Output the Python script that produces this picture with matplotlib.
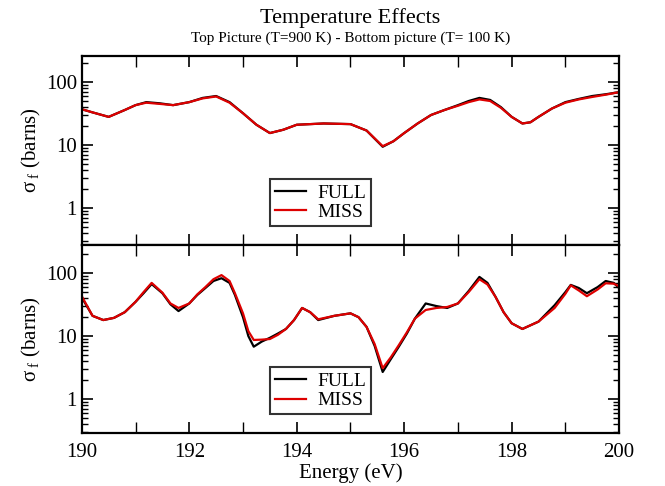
import numpy as np
import matplotlib
matplotlib.use("Agg")
import matplotlib.pyplot as plt
from matplotlib.ticker import LogLocator, MultipleLocator, FixedLocator

plt.rcParams['font.family'] = ['Liberation Serif', 'DejaVu Serif']
plt.rcParams['mathtext.fontset'] = 'custom'
plt.rcParams['mathtext.rm'] = 'Liberation Serif'
plt.rcParams['mathtext.it'] = 'Liberation Serif:italic'

# top panel, T = 900 K
e_hot = [190.0, 190.2, 190.5, 190.8, 191.0, 191.2, 191.45, 191.7, 192.0, 192.25,
         192.5, 192.75, 193.0, 193.25, 193.5, 193.75, 194.0, 194.5, 195.0, 195.3,
         195.6, 195.8, 196.0, 196.25, 196.5, 196.75, 197.0, 197.2, 197.4, 197.6,
         197.8, 198.0, 198.2, 198.35, 198.5, 198.75, 199.0, 199.25, 199.5, 199.75, 200.0]
full_hot = [37, 33, 28, 36, 43, 48, 46, 43, 48, 56,
            60, 48, 32, 21, 15.5, 17.5, 21, 22, 21.5, 17,
            9.4, 11.5, 15.5, 22, 30, 36, 43, 50, 56, 52,
            40, 28, 22, 23, 28, 38, 48, 54, 60, 64, 69]
miss_hot = [37, 33, 28, 36, 43, 47, 45, 43, 48, 55,
            59, 47, 32, 21, 15.5, 17.5, 21, 22, 21.5, 17,
            9.6, 11.5, 15.5, 22, 30, 36, 42, 48, 53, 50,
            39, 28, 22, 23, 28, 38, 47, 53, 58, 63, 69]

# bottom panel, T = 100 K
e_cold = [190.0, 190.2, 190.4, 190.6, 190.8, 191.0, 191.15, 191.3, 191.5, 191.65,
          191.8, 192.0, 192.15, 192.3, 192.45, 192.6, 192.75, 192.85, 193.0, 193.1,
          193.2, 193.35, 193.5, 193.65, 193.8, 193.95, 194.1, 194.25, 194.4, 194.7,
          195.0, 195.15, 195.3, 195.45, 195.6, 195.75, 195.9, 196.05, 196.2, 196.4,
          196.6, 196.8, 197.0, 197.2, 197.4, 197.55, 197.7, 197.85, 198.0, 198.2,
          198.5, 198.8, 199.0, 199.1, 199.25, 199.4, 199.6, 199.75, 199.9, 200.0]
full_cold = [41, 21, 18, 19.5, 24, 35, 48, 67, 48, 32,
             25, 33, 45, 58, 75, 83, 70, 45, 20, 10,
             6.8, 8.2, 9.4, 11, 13, 18, 28, 24, 18, 21,
             23, 20, 14, 7, 2.7, 4.3, 6.8, 11, 19, 33,
             30, 28, 33, 52, 87, 70, 42, 24, 16, 13,
             17, 31, 50, 65, 58, 48, 60, 75, 70, 58]
miss_cold = [43, 21, 18, 19.5, 24, 35, 50, 70, 49, 33,
             28, 33, 46, 60, 80, 93, 75, 48, 23, 12,
             8.7, 8.8, 9.0, 10.5, 13, 18, 28, 24, 18.5, 21,
             23, 20, 14, 7.5, 3.1, 4.6, 7.2, 11.5, 19, 26,
             28, 29, 33, 50, 80, 66, 42, 24, 16, 13,
             17, 28, 47, 64, 53, 43, 55, 69, 68, 62]

x_ticks = [190, 192, 194, 196, 198, 200]
y_ticks = [1, 10, 100]
y_labels = ["1", "10", "100"]

fig = plt.figure(figsize=(6.65, 4.86), dpi=100)
ax_top = fig.add_axes([0.123, 0.496, 0.808, 0.389])
ax_bot = fig.add_axes([0.123, 0.109, 0.808, 0.387])

panels = [(ax_top, e_hot, full_hot, miss_hot, (0.26, 260)),
          (ax_bot, e_cold, full_cold, miss_cold, (0.29, 280))]

for ax, e, full, miss, ylim in panels:
    ax.plot(e, full, color="black", lw=1.6, label="FULL")
    ax.plot(e, miss, color="#dd0000", lw=1.6, label="MISS")
    ax.set_yscale("log")
    ax.set_xlim(190, 200)
    ax.set_ylim(*ylim)
    ax.xaxis.set_major_locator(FixedLocator(x_ticks))
    ax.xaxis.set_minor_locator(MultipleLocator(1))
    ax.yaxis.set_major_locator(FixedLocator(y_ticks))
    ax.set_yticklabels(y_labels)
    ax.yaxis.set_minor_locator(LogLocator(base=10, subs=np.arange(2, 10)))
    ax.tick_params(which="both", direction="in", top=True, right=True, labelsize=15)
    ax.tick_params(which="major", length=8, width=1.2)
    ax.tick_params(which="minor", length=4, width=1.0)
    ax.tick_params(axis="x", which="minor", length=8)
    ax.tick_params(axis="x", pad=7)
    for sp in ax.spines.values():
        sp.set_linewidth(1.6)
    ax.set_ylabel(r"$\mathrm{\sigma}_{\ \mathrm{f}}$ (barns)", fontsize=15, labelpad=2)
    leg = ax.legend(loc="lower left", bbox_to_anchor=(0.35, 0.1), fontsize=14,
                    frameon=True, fancybox=False, handlelength=1.6,
                    borderpad=0.25, labelspacing=0.1, handletextpad=0.6,
                    borderaxespad=0)
    leg.get_frame().set_edgecolor("black")
    leg.get_frame().set_linewidth(1.5)

ax_top.tick_params(axis="x", labelbottom=False)
ax_bot.set_xlabel("Energy (eV)", fontsize=15, labelpad=1)

fig.text(0.527, 0.962, "Temperature Effects", ha="center", va="center", fontsize=16)
fig.text(0.527, 0.921, "Top Picture (T=900 K) - Bottom picture (T= 100 K)",
         ha="center", va="center", fontsize=11)

fig.savefig("out.png", dpi=100)
